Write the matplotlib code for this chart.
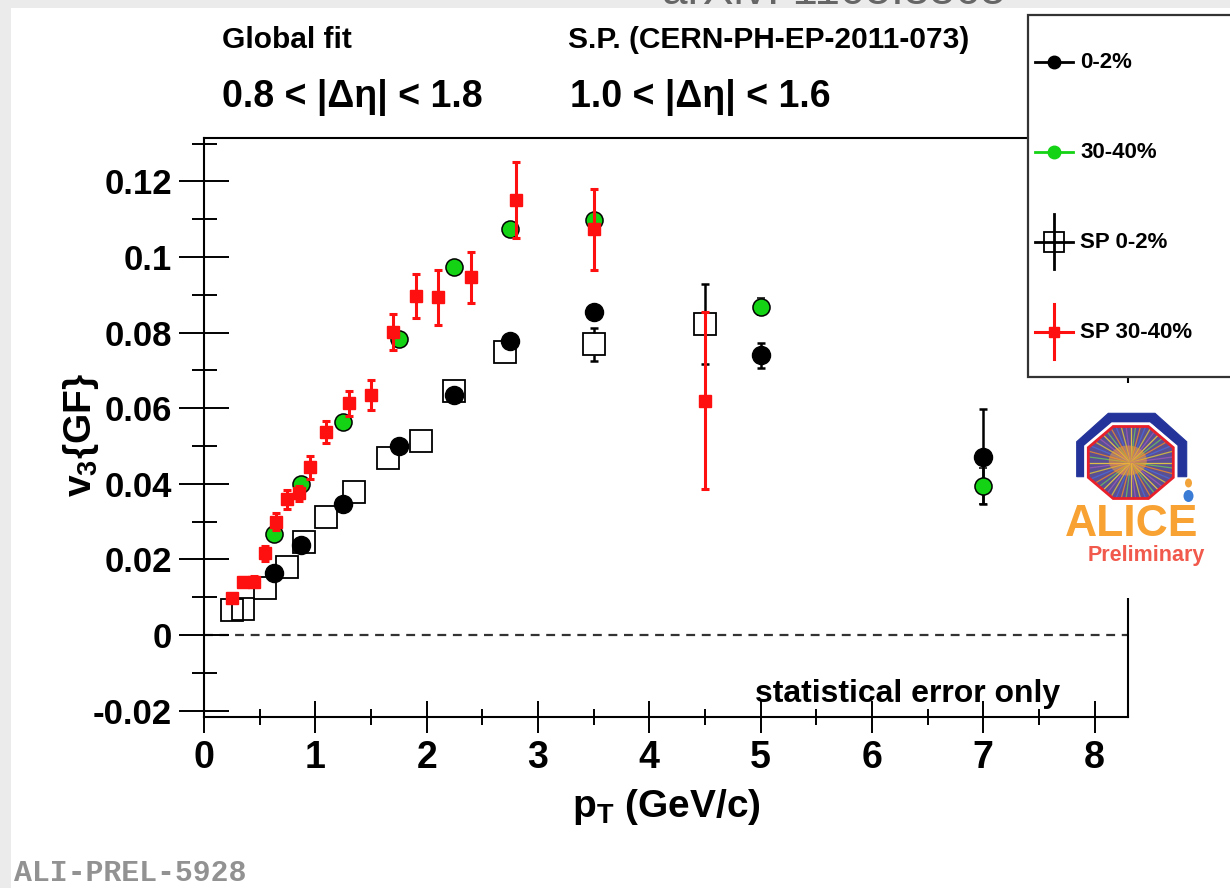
import matplotlib
matplotlib.use('Agg')
import matplotlib.pyplot as plt
import numpy as np
from matplotlib.lines import Line2D
from matplotlib.patches import Rectangle, Polygon, Ellipse
from matplotlib.transforms import Affine2D
from matplotlib.ticker import FixedLocator, FixedFormatter, MultipleLocator

W, H = 1230, 888

# ---- data ----
gf_pt = [0.625, 0.875, 1.25, 1.75, 2.25, 2.75, 3.5, 5.0, 7.0]
gf_v3_0_2 = [0.0163, 0.0238, 0.0346, 0.0500, 0.0636, 0.0777, 0.0855, 0.0740, 0.0472]
gf_err_0_2 = [0.0007, 0.0008, 0.0009, 0.0010, 0.0011, 0.0013, 0.0016, 0.0033, 0.0125]
gf_v3_30_40 = [0.0266, 0.0399, 0.0564, 0.0784, 0.0973, 0.1074, 0.1098, 0.0869, 0.0394]
gf_err_30_40 = [0.0006, 0.0007, 0.0008, 0.0009, 0.0010, 0.0012, 0.0014, 0.0022, 0.0047]

sp_pt_0_2 = [0.25, 0.35, 0.55, 0.75, 0.9, 1.1, 1.35, 1.65, 1.95, 2.25, 2.7, 3.5, 4.5]
sp_v3_0_2 = [0.0066, 0.0070, 0.0124, 0.0181, 0.0247, 0.0313, 0.0378, 0.0467, 0.0513,
             0.0646, 0.0749, 0.0769, 0.0823]
sp_err_0_2 = [0.0008, 0.0008, 0.0008, 0.0009, 0.0009, 0.0010, 0.0011, 0.0013, 0.0015,
              0.0018, 0.0022, 0.0044, 0.0105]

sp_pt_30_40 = [0.25, 0.35, 0.45, 0.55, 0.65, 0.75, 0.85, 0.95, 1.1, 1.3, 1.5, 1.7, 1.9,
               2.1, 2.4, 2.8, 3.5, 4.5]
sp_v3_30_40 = [0.0097, 0.0141, 0.0141, 0.0216, 0.0300, 0.0359, 0.0375, 0.0444, 0.0538,
               0.0613, 0.0635, 0.0801, 0.0897, 0.0893, 0.0946, 0.1151, 0.1074, 0.0620]
sp_err_30_40 = [0.0010, 0.0012, 0.0014, 0.0020, 0.0022, 0.0025, 0.0020, 0.0030, 0.0029,
                0.0033, 0.0040, 0.0047, 0.0059, 0.0072, 0.0067, 0.0100, 0.0107, 0.0235]

x_ticks = [0, 1, 2, 3, 4, 5, 6, 7, 8]
y_ticks = [-0.02, 0, 0.02, 0.04, 0.06, 0.08, 0.1, 0.12]
y_tick_labels = ['-0.02', '0', '0.02', '0.04', '0.06', '0.08', '0.1', '0.12']

legend_labels = ['0-2%', '30-40%', 'SP 0-2%', 'SP 30-40%']

plt.rcParams['font.family'] = ['Liberation Sans', 'DejaVu Sans']
plt.rcParams['font.weight'] = 'bold'
plt.rcParams['mathtext.fontset'] = 'custom'
plt.rcParams['mathtext.rm'] = 'Liberation Sans:bold'
plt.rcParams['mathtext.it'] = 'Liberation Sans:bold'
plt.rcParams['mathtext.bf'] = 'Liberation Sans:bold'

RED = '#ff1010'
GREEN = '#14d214'

fig = plt.figure(figsize=(W / 100, H / 100), dpi=100, facecolor='#ebebeb')
# pixel coordinates (origin top-left) for the page furniture
px = Affine2D().scale(1 / W, -1 / H).translate(0, 1) + fig.transFigure

fig.add_artist(Rectangle((11, 8), W, H, transform=px, facecolor='white',
                         edgecolor='none', zorder=-10))
fig.text(662, 4, 'arXiv: 1105.3865', transform=px, fontsize=33, fontweight='normal',
         color='#666666', va='baseline', ha='left')

ax = fig.add_axes([204 / W, 1 - 717 / H, (1128 - 204) / W, (717 - 138) / H])
ax.set_xlim(0, 8.3)
ax.set_ylim(-0.0217, 0.1315)

ax.axhline(0, color='#333333', lw=1.6, ls=(0, (4, 3)), zorder=1)

# open squares: ROOT hides the part of the error bar inside the marker
sq_half = 0.0029
ax.plot(sp_pt_0_2, sp_v3_0_2, 's', ms=15.5, mfc='none', mec='black', mew=1.3, zorder=2)
for x, y, e in zip(sp_pt_0_2, sp_v3_0_2, sp_err_0_2):
    if e > sq_half:
        ax.errorbar([x, x], [y + sq_half + (e - sq_half) / 2, y - sq_half - (e - sq_half) / 2],
                    yerr=(e - sq_half) / 2, fmt='none', ecolor='black', elinewidth=1.8,
                    capsize=0, zorder=2)
        ax.errorbar([x], [y], yerr=[e], fmt='none', ecolor='black', elinewidth=0,
                    capsize=3, capthick=1.8, zorder=2)

ax.errorbar(gf_pt, gf_v3_0_2, yerr=gf_err_0_2, fmt='o', ms=13, mfc='black',
            mec='black', ecolor='black', elinewidth=1.8, capsize=3, capthick=1.8,
            zorder=3)
ax.errorbar(gf_pt, gf_v3_30_40, yerr=gf_err_30_40, fmt='o', ms=12.3, mfc=GREEN,
            mec='black', mew=1.1, ecolor='black', elinewidth=1.8, capsize=3,
            capthick=1.8, zorder=4)
ax.errorbar(sp_pt_30_40, sp_v3_30_40, yerr=sp_err_30_40, fmt='s', ms=8, mfc=RED,
            mec=RED, ecolor=RED, elinewidth=2.2, capsize=3, capthick=2.2, zorder=5)

for s in ax.spines.values():
    s.set_linewidth(1.5)
ax.xaxis.set_major_locator(FixedLocator(x_ticks))
ax.xaxis.set_minor_locator(MultipleLocator(0.5))
ax.yaxis.set_major_locator(FixedLocator(y_ticks))
ax.yaxis.set_major_formatter(FixedFormatter(y_tick_labels))
ax.yaxis.set_minor_locator(MultipleLocator(0.01))
ax.tick_params(axis='y', which='major', direction='inout', length=36, width=1.4,
               labelsize=25, pad=5)
ax.tick_params(axis='y', which='minor', direction='inout', length=18, width=1.4)
ax.tick_params(axis='x', which='major', direction='inout', length=23, width=1.4,
               labelsize=27, pad=5)
ax.tick_params(axis='x', which='minor', direction='inout', length=11, width=1.4)
for lab in ax.get_xticklabels() + ax.get_yticklabels():
    lab.set_fontweight('bold')

ax.set_xlabel(r'p$_{\mathbf{T}}$ (GeV/c)', fontsize=28, fontweight='bold')
ax.set_ylabel(r'v$_{\mathbf{3}}${GF}', fontsize=28, fontweight='bold')
ax.xaxis.set_label_coords(0.5, -0.121)
ax.yaxis.set_label_coords(-0.112, 0.487)

# header texts
fig.text(222, 48.5, 'Global fit', transform=px, fontsize=21.5, va='baseline')
fig.text(568, 48.5, 'S.P. (CERN-PH-EP-2011-073)', transform=px, fontsize=21.5,
         va='baseline')
fig.text(222, 106.7, '0.8 < |\u0394\u03b7| < 1.8', transform=px, fontsize=27,
         va='baseline')
fig.text(570, 106.7, '1.0 < |\u0394\u03b7| < 1.6', transform=px, fontsize=27,
         va='baseline')
fig.text(755, 702, 'statistical error only', transform=px, fontsize=23,
         va='baseline', zorder=6)
fig.text(14, 881, 'ALI-PREL-5928', transform=px, fontsize=21.5,
         family='Liberation Mono', color='#929292', va='baseline')

# ---- legend box (runs off the right edge like the original) ----
fig.add_artist(Rectangle((1028, 15), 260, 362, transform=px, facecolor='white',
                         edgecolor='#333333', lw=1.6, zorder=8))
leg_y = [62, 152, 242, 332]
lx0, lx1, lxc = 1035, 1073, 1054
leg_style = [
    dict(color='black', marker='o', ms=9, mfc='black', mec='black'),
    dict(color=GREEN, marker='o', ms=9, mfc=GREEN, mec=GREEN),
    dict(color='black', marker='s', ms=14, mfc='none', mec='black', mew=1.3),
    dict(color=RED, marker='s', ms=7, mfc=RED, mec=RED),
]
for i, (lab, y) in enumerate(zip(legend_labels, leg_y)):
    st = leg_style[i]
    lw = 2.0 if i != 3 else 2.2
    fig.add_artist(Line2D([lx0, lx1], [y, y], transform=px, color=st['color'],
                          lw=lw, zorder=9))
    if i >= 2:
        fig.add_artist(Line2D([lxc, lxc], [y - 28, y + 27], transform=px,
                              color=st['color'], lw=lw, zorder=9))
    fig.add_artist(Line2D([lxc], [y], transform=px, ls='none', marker=st['marker'],
                          ms=st['ms'], mfc=st['mfc'], mec=st['mec'],
                          mew=st.get('mew', 1.0), zorder=10))
    fig.text(1080, y, lab, transform=px, fontsize=16, va='center', ha='left',
             zorder=10)

# ---- ALICE Preliminary logo ----
fig.add_artist(Rectangle((1050, 383), 172, 215, transform=px, facecolor='white',
                         edgecolor='none', zorder=6))
blue = [(1076.7, 441.7), (1108.3, 413.3), (1155, 413.3), (1186.7, 441.7),
        (1186.7, 476.7), (1176.7, 476.7), (1176.7, 445), (1151.7, 423.3),
        (1111.7, 423.3), (1086.7, 445), (1086.7, 476.7), (1076.7, 476.7)]
fig.add_artist(Polygon(blue, closed=True, transform=px, facecolor='#23339a',
                       edgecolor='#23339a', lw=0.8, zorder=7))
cx, cy, rx, ry = 1130.8, 462.5, 42.5, 36.0
ang = np.deg2rad(np.arange(22.5, 360, 45))
octo = list(zip(cx + rx / np.cos(np.deg2rad(22.5)) * np.cos(ang),
                cy + ry / np.cos(np.deg2rad(22.5)) * np.sin(ang)))
fig.add_artist(Polygon(octo, closed=True, transform=px, facecolor='white',
                       edgecolor='white', lw=6, zorder=7))
oct_patch = Polygon(octo, closed=True, transform=px, facecolor='#5b4f94',
                    edgecolor='none', zorder=7)
fig.add_artist(oct_patch)
ray_cols = ['#f2d43c', '#6cbf5a', '#e8862b', '#4a6ad8', '#d9c23a', '#9b59b6']
for k, a in enumerate(np.deg2rad(np.arange(0, 360, 7.5))):
    r = Line2D([cx, cx + 60 * np.cos(a)], [cy, cy + 60 * np.sin(a)], transform=px,
               color=ray_cols[k % len(ray_cols)], lw=0.9, alpha=0.85, zorder=7)
    fig.add_artist(r)
    r.set_clip_path(oct_patch)
glow = Ellipse((cx - 3, cy - 2), 38, 30, transform=px, facecolor='#f39c32',
               edgecolor='none', alpha=0.55, zorder=7)
fig.add_artist(glow)
glow.set_clip_path(oct_patch)
fig.add_artist(Polygon(octo, closed=True, transform=px, facecolor='none',
                       edgecolor='#e8202a', lw=2, zorder=7))
fig.add_artist(Ellipse((1188.5, 483), 7, 9, transform=px, facecolor='#f2a33a',
                       edgecolor='none', zorder=7))
fig.add_artist(Ellipse((1188.5, 496), 10, 12, transform=px, facecolor='#3a7bd5',
                       edgecolor='none', zorder=7))
fig.text(1132, 536, 'ALICE', transform=px, fontsize=32, color='#f7a233',
         ha='center', va='baseline', zorder=7)
fig.text(1146, 561, 'Preliminary', transform=px, fontsize=15.5, color='#f0594c',
         ha='center', va='baseline', zorder=7)

fig.savefig('out.png', dpi=100, facecolor=fig.get_facecolor())
